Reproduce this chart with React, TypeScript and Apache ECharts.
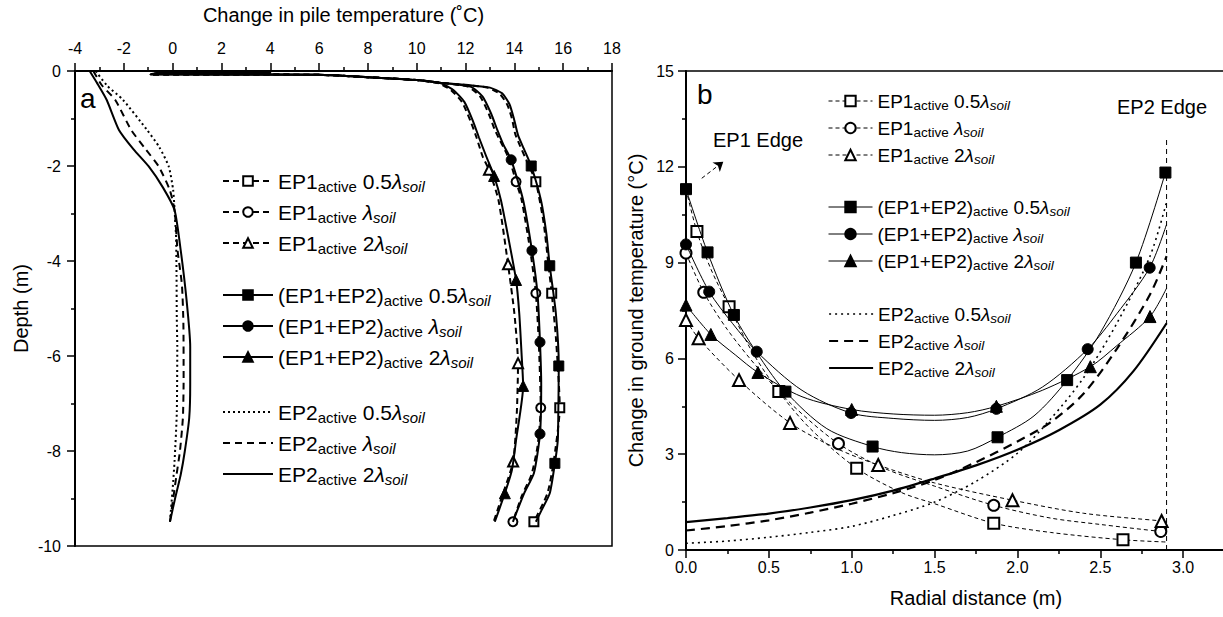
import React, { useEffect, useRef } from 'react';
import * as echarts from 'echarts';

const FONT = '"Liberation Sans", Arial, sans-serif';

// ---------- Panel a : [change in pile temperature (°C), depth (m)] ----------
// EP1+EP2 active (solid, filled markers)
const aBoth05Line = [[-0.9, -0.07], [-0.5, -0.04], [0, -0.01], [2, -0.01], [4, -0.03], [6, -0.08], [8, -0.13], [10, -0.19], [11, -0.25], [12.2, -0.3], [13.0, -0.35], [13.5, -0.47], [13.8, -0.7], [13.98, -1.0], [14.15, -1.35], [14.4, -1.65], [15.09, -2.72], [15.31, -3.42], [15.7, -5.1], [15.8, -7.2], [15.78, -7.77], [15.45, -8.89], [15.12, -9.24], [14.88, -9.49]];
const aBoth05Marks = [[14.69, -2.0], [15.45, -4.1], [15.82, -6.21], [15.66, -8.26]];
const aBoth1Line = [[-0.9, -0.07], [-0.5, -0.04], [0, -0.01], [2, -0.01], [4, -0.03], [6, -0.08], [8, -0.13], [10, -0.19], [11, -0.25], [12.2, -0.33], [12.7, -0.54], [13.05, -0.9], [13.3, -1.24], [13.55, -1.55], [14.36, -2.72], [14.95, -4.7], [15.1, -6.6], [14.8, -8.47], [14.4, -8.89], [13.94, -9.49]];
const aBoth1Marks = [[13.87, -1.87], [14.72, -3.78], [15.05, -5.71], [15.05, -7.64]];
const aBoth2Line = [[-0.9, -0.07], [-0.5, -0.04], [0, -0.01], [2, -0.01], [4, -0.03], [6, -0.08], [8, -0.13], [10, -0.19], [11, -0.26], [11.5, -0.4], [11.95, -0.65], [12.3, -1.05], [12.55, -1.4], [12.85, -1.8], [13.45, -2.72], [13.75, -3.5], [14.2, -5.1], [14.3, -6.0], [14.07, -7.77], [13.9, -8.4], [13.2, -9.49]];
const aBoth2Marks = [[13.17, -2.21], [14.07, -4.4], [14.36, -6.63], [13.61, -8.89]];
// EP1 active (dashed, open markers)
const aEp105Line = [[-0.9, -0.07], [-0.5, -0.04], [0, -0.01], [2, -0.01], [4, -0.03], [6, -0.08], [8, -0.13], [10, -0.19], [11, -0.25], [12.1, -0.3], [12.9, -0.35], [13.4, -0.48], [13.72, -0.72], [13.9, -1.0], [14.05, -1.35], [14.6, -2.0], [15.2, -3.2], [15.4, -4.1], [15.7, -5.6], [15.6, -8.26], [15.35, -8.9]];
const aEp105Marks = [[14.88, -2.33], [15.53, -4.68], [15.86, -7.09], [14.8, -9.49]];
const aEp11Line = [[-0.9, -0.07], [-0.5, -0.04], [0, -0.01], [2, -0.01], [4, -0.03], [6, -0.08], [8, -0.13], [10, -0.19], [11, -0.25], [12.1, -0.33], [12.6, -0.54], [12.95, -0.9], [13.2, -1.24], [13.8, -1.87], [14.3, -2.72], [14.65, -3.78], [15.0, -5.71], [14.95, -7.9], [14.7, -8.5], [14.3, -8.95]];
const aEp11Marks = [[14.07, -2.33], [14.88, -4.68], [15.08, -7.09], [13.94, -9.49]];
const aEp12Line = [[-0.9, -0.07], [-0.5, -0.04], [0, -0.01], [2, -0.01], [4, -0.03], [6, -0.08], [8, -0.13], [10, -0.19], [10.9, -0.26], [11.4, -0.4], [11.85, -0.65], [12.2, -1.05], [12.45, -1.4], [12.7, -1.8], [13.35, -2.72], [14.0, -5.1], [14.1, -7.2], [13.5, -8.95], [13.15, -9.49]];
const aEp12Marks = [[12.96, -2.08], [13.74, -4.07], [14.15, -6.15], [13.95, -8.22]];
// EP2 active (no markers)
const aEp205Line = [[-3.15, 0], [-2.7, -0.3], [-2.03, -0.61], [-1.05, -1.24], [-0.55, -1.6], [-0.16, -2.01], [0.02, -2.5], [0.08, -2.93], [0.14, -3.5], [0.16, -4.3], [0.17, -5.2], [0.19, -5.8], [0.17, -7.2], [0.08, -8.2], [0.0, -8.8], [-0.11, -9.49]];
const aEp21Line = [[-3.25, 0], [-2.9, -0.3], [-2.35, -0.61], [-1.7, -1.24], [-1.1, -1.65], [-0.57, -2.01], [-0.12, -2.5], [0.08, -2.93], [0.2, -3.77], [0.38, -4.5], [0.44, -5.3], [0.45, -6.5], [0.42, -7.3], [0.3, -8.0], [0.16, -8.5], [-0.11, -9.49]];
const aEp22Line = [[-3.4, 0], [-3.1, -0.25], [-2.7, -0.61], [-2.2, -1.24], [-1.6, -1.65], [-0.98, -2.01], [-0.4, -2.45], [0.08, -2.93], [0.33, -3.77], [0.57, -4.82], [0.72, -5.8], [0.72, -6.6], [0.68, -7.3], [0.5, -8.0], [0.33, -8.5], [0.1, -9.0], [-0.11, -9.49]];

// ---------- Panel b : [radial distance (m), change in ground temperature (°C)] ----------
const bEp105Line = [[0, 11.3], [0.15, 8.8], [0.4, 6.2], [0.75, 3.8], [1.3, 1.8], [1.5, 1.45], [2.2, 0.55], [2.9, 0.25]];
const bEp105Marks = [[0.066, 9.97], [0.26, 7.62], [0.56, 4.96], [1.03, 2.56], [1.857, 0.84], [2.637, 0.32]];
const bEp11Line = [[0.25, 6.9], [0.45, 5.6], [0.65, 4.5], [1.2, 2.55], [1.5, 2.0], [2.2, 1.0], [2.5, 0.8], [2.9, 0.57]];
const bEp11Marks = [[0, 9.3], [0.107, 8.07], [0.92, 3.33], [1.857, 1.4], [2.865, 0.58]];
const bEp12Line = [[0.9, 3.2], [1.5, 2.1], [2.4, 1.15], [2.9, 0.9]];
const bEp12Marks = [[0, 7.2], [0.076, 6.63], [0.32, 5.32], [0.628, 3.98], [1.16, 2.66], [1.97, 1.56], [2.87, 0.91]];
const bBoth05Line = [[0.45, 6.0], [0.85, 3.8], [1.3, 3.05], [1.5, 2.98], [1.7, 3.1], [2.1, 4.2], [2.5, 6.8]];
const bBoth05Marks = [[0, 11.3], [0.13, 9.32], [0.289, 7.36], [0.6, 4.96], [1.126, 3.24], [1.88, 3.53], [2.3, 5.32], [2.715, 9.0], [2.893, 11.82]];
const bBoth1Line = [[0.28, 7.1], [0.7, 5.0], [1.25, 4.12], [1.5, 4.06], [1.7, 4.15], [2.15, 5.1], [2.6, 7.4], [2.9, 10.2]];
const bBoth1Marks = [[0, 9.57], [0.14, 8.09], [0.427, 6.21], [0.996, 4.29], [1.873, 4.42], [2.424, 6.29], [2.798, 8.84]];
const bBoth2Line = [[0.3, 6.1], [0.7, 4.8], [1.25, 4.26], [1.5, 4.22], [1.7, 4.3], [2.15, 5.0], [2.6, 6.4], [2.9, 8.2]];
const bBoth2Marks = [[0, 7.67], [0.15, 6.75], [0.434, 5.56], [1.0, 4.4], [1.873, 4.5], [2.44, 5.74], [2.8, 7.31]];
const bEp205Line = [[0, 0.21], [0.25, 0.28], [0.5, 0.4], [0.75, 0.55], [1.0, 0.74], [1.25, 1.08], [1.5, 1.5], [1.75, 2.15], [2.0, 3.03], [2.2, 4.1], [2.4, 5.4], [2.6, 7.1], [2.8, 9.2], [2.9, 10.9]];
const bEp21Line = [[0, 0.61], [0.25, 0.75], [0.5, 0.93], [0.75, 1.17], [1.0, 1.45], [1.25, 1.78], [1.5, 2.19], [1.75, 2.75], [2.0, 3.4], [2.2, 4.0], [2.4, 4.9], [2.6, 6.3], [2.8, 8.0], [2.9, 9.2]];
const bEp22Line = [[0, 0.87], [0.25, 1.0], [0.5, 1.14], [0.75, 1.33], [1.0, 1.56], [1.25, 1.86], [1.5, 2.24], [1.75, 2.65], [2.0, 3.14], [2.25, 3.75], [2.5, 4.55], [2.7, 5.6], [2.9, 7.1]];
const bEdgeLine = [[2.9, 0], [2.9, 12.9]];
const bArrowFrom = [0.095, 11.64];
const bArrowTo = [0.225, 12.16];

const LABELS: Record<string, string> = {
  ep105: 'EP1{s|active} 0.5{l|λ}{ls|soil}',
  ep11: 'EP1{s|active} {l|λ}{ls|soil}',
  ep12: 'EP1{s|active} 2{l|λ}{ls|soil}',
  both05: '(EP1+EP2){s|active} 0.5{l|λ}{ls|soil}',
  both1: '(EP1+EP2){s|active} {l|λ}{ls|soil}',
  both2: '(EP1+EP2){s|active} 2{l|λ}{ls|soil}',
  ep205: 'EP2{s|active} 0.5{l|λ}{ls|soil}',
  ep21: 'EP2{s|active} {l|λ}{ls|soil}',
  ep22: 'EP2{s|active} 2{l|λ}{ls|soil}',
};

function merge(line: number[][], marks: number[][], byDepth: boolean) {
  const items: any[] = [
    ...line.map((p) => ({ value: p, symbol: 'none' })),
    ...marks.map((p) => ({ value: p })),
  ];
  items.sort((a, b) => (byDepth ? b.value[1] - a.value[1] : a.value[0] - b.value[0]));
  return items;
}

function ser(name: string, g: number, data: any[], o: any) {
  return {
    type: 'line',
    name,
    xAxisIndex: g,
    yAxisIndex: g,
    data,
    showSymbol: true,
    symbol: o.symbol || 'none',
    symbolSize: o.size || 10,
    smooth: o.smooth ?? 0.2,
    lineStyle: { color: '#000', width: o.width, type: o.type || 'solid' },
    itemStyle: { color: '#000', borderColor: '#000', borderWidth: 1 },
    emphasis: { disabled: true },
    silent: true,
    z: o.z || 2,
  };
}

function legend(names: string[], left: number, top: number, big: boolean, noSym: boolean) {
  const fs = big ? 21 : 19;
  const ss = big ? 15 : 13.5;
  const lh = big ? 26 : 22;
  return {
    orient: 'vertical',
    left,
    top,
    padding: 0,
    itemGap: 5,
    itemWidth: big ? 50 : 44,
    itemHeight: big ? 12 : 13,
    selectedMode: false,
    data: names.map((n) => (noSym ? { name: n, itemStyle: { opacity: 0 } } : { name: n })),
    formatter: (n: string) => LABELS[n.split(':')[1]],
    lineStyle: { width: 'inherit' },
    textStyle: {
      fontFamily: FONT,
      fontSize: fs,
      lineHeight: lh,
      color: '#000',
      rich: {
        s: { fontFamily: FONT, fontSize: ss, lineHeight: ss, verticalAlign: 'bottom', color: '#000' },
        l: { fontFamily: FONT, fontSize: fs, lineHeight: lh, fontStyle: 'italic', color: '#000' },
        ls: { fontFamily: FONT, fontSize: ss, lineHeight: ss, fontStyle: 'italic', verticalAlign: 'bottom', color: '#000' },
      },
    },
  };
}

const axisCommon = () => ({
  type: 'value',
  nameLocation: 'middle',
  nameTextStyle: { fontFamily: FONT, fontSize: 20, color: '#000' },
  axisLine: { show: true, onZero: false, lineStyle: { color: '#000', width: 2 } },
  axisTick: { show: true, inside: false, length: 8, lineStyle: { color: '#000', width: 1.5 } },
  minorTick: { show: true, splitNumber: 2, length: 4, lineStyle: { color: '#000', width: 1.5 } },
  splitLine: { show: false },
  minorSplitLine: { show: false },
});

export default function App() {
  const ref = useRef<HTMLDivElement>(null);
  useEffect(() => {
    if (!ref.current) return;
    const chart = echarts.init(ref.current, undefined, { renderer: 'svg' });
    const series: any[] = [
      // panel a
      ser('a:ep205', 0, merge(aEp205Line, [], true), { width: 2, type: [2, 3] }),
      ser('a:ep21', 0, merge(aEp21Line, [], true), { width: 2, type: [7, 5] }),
      ser('a:ep22', 0, merge(aEp22Line, [], true), { width: 2 }),
      ser('a:ep105', 0, merge(aEp105Line, aEp105Marks, true), { width: 2, type: [6, 4], symbol: 'emptyRect', size: 9 }),
      ser('a:ep11', 0, merge(aEp11Line, aEp11Marks, true), { width: 2, type: [6, 4], symbol: 'emptyCircle', size: 9 }),
      ser('a:ep12', 0, merge(aEp12Line, aEp12Marks, true), { width: 2, type: [6, 4], symbol: 'emptyTriangle', size: 10 }),
      ser('a:both05', 0, merge(aBoth05Line, aBoth05Marks, true), { width: 2, symbol: 'rect', size: 10, z: 3 }),
      ser('a:both1', 0, merge(aBoth1Line, aBoth1Marks, true), { width: 2, symbol: 'circle', size: 10, z: 3 }),
      ser('a:both2', 0, merge(aBoth2Line, aBoth2Marks, true), { width: 2, symbol: 'triangle', size: 11, z: 3 }),
      // panel b
      ser('b:ep205', 1, merge(bEp205Line, [], false), { width: 1.6, type: [2, 4], smooth: 0.3 }),
      ser('b:ep21', 1, merge(bEp21Line, [], false), { width: 2.2, type: [9, 6], smooth: 0.3 }),
      ser('b:ep22', 1, merge(bEp22Line, [], false), { width: 2.2, smooth: 0.3 }),
      ser('b:ep105', 1, merge(bEp105Line, bEp105Marks, false), { width: 1, type: [4, 3], symbol: 'emptyRect', size: 11, smooth: 0.3 }),
      ser('b:ep11', 1, merge(bEp11Line, bEp11Marks, false), { width: 1, type: [4, 3], symbol: 'emptyCircle', size: 11, smooth: 0.3 }),
      ser('b:ep12', 1, merge(bEp12Line, bEp12Marks, false), { width: 1, type: [4, 3], symbol: 'emptyTriangle', size: 12, smooth: 0.3 }),
      ser('b:both05', 1, merge(bBoth05Line, bBoth05Marks, false), { width: 1, symbol: 'rect', size: 11, smooth: 0.3, z: 3 }),
      ser('b:both1', 1, merge(bBoth1Line, bBoth1Marks, false), { width: 1, symbol: 'circle', size: 11, smooth: 0.3, z: 3 }),
      ser('b:both2', 1, merge(bBoth2Line, bBoth2Marks, false), { width: 1, symbol: 'triangle', size: 12, smooth: 0.3, z: 3 }),
      {
        type: 'line',
        name: 'edge',
        xAxisIndex: 1,
        yAxisIndex: 1,
        data: bEdgeLine,
        symbol: 'none',
        silent: true,
        lineStyle: { color: '#000', width: 1, type: [5, 4] },
        markLine: {
          silent: true,
          symbol: ['none', 'arrow'],
          symbolSize: 9,
          label: { show: false },
          lineStyle: { color: '#000', width: 1, type: [4, 3] },
          data: [[{ coord: bArrowFrom }, { coord: bArrowTo }]],
        },
      },
    ];

    const option: any = {
      animation: false,
      textStyle: { fontFamily: FONT, color: '#000' },
      grid: [
        { left: 75, top: 71, width: 537, height: 475, show: true, borderColor: '#000', borderWidth: 1.5, backgroundColor: 'transparent' },
        { left: 686, top: 71, width: 580, height: 479, show: true, borderColor: '#000', borderWidth: 1.5, backgroundColor: 'transparent' },
      ],
      xAxis: [
        {
          ...axisCommon(),
          gridIndex: 0,
          position: 'top',
          min: -4,
          max: 18,
          interval: 2,
          name: 'Change in pile temperature (˚C)',
          nameGap: 46,
          axisLabel: { fontFamily: FONT, fontSize: 16, color: '#000', margin: 15 },
        },
        {
          ...axisCommon(),
          gridIndex: 1,
          position: 'bottom',
          min: 0,
          max: 3.5,
          interval: 0.5,
          name: 'Radial distance (m)',
          nameGap: 38,
          axisLabel: {
            fontFamily: FONT,
            fontSize: 16,
            color: '#000',
            margin: 9,
            showMaxLabel: false,
            formatter: (v: number) => (v > 3.01 ? '' : v.toFixed(1)),
          },
        },
      ],
      yAxis: [
        {
          ...axisCommon(),
          gridIndex: 0,
          min: -10,
          max: 0,
          interval: 2,
          name: 'Depth (m)',
          nameGap: 44,
          axisLabel: { fontFamily: FONT, fontSize: 16, color: '#000', margin: 14 },
        },
        {
          ...axisCommon(),
          gridIndex: 1,
          min: 0,
          max: 15,
          interval: 3,
          name: 'Change in ground temperature (°C)',
          nameGap: 40,
          axisLabel: { fontFamily: FONT, fontSize: 16, color: '#000', margin: 12 },
        },
      ],
      legend: [
        legend(['a:ep105', 'a:ep11', 'a:ep12'], 222, 168, true, false),
        legend(['a:both05', 'a:both1', 'a:both2'], 222, 282, true, false),
        legend(['a:ep205', 'a:ep21', 'a:ep22'], 222, 399, true, true),
        legend(['b:ep105', 'b:ep11', 'b:ep12'], 828, 90, false, false),
        legend(['b:both05', 'b:both1', 'b:both2'], 828, 196, false, false),
        legend(['b:ep205', 'b:ep21', 'b:ep22'], 828, 303, false, true),
      ],
      graphic: [
        { type: 'text', left: 80, top: 84, style: { text: 'a', font: `28px ${FONT}`, fill: '#000' } },
        { type: 'text', left: 697, top: 80, style: { text: 'b', font: `28px ${FONT}`, fill: '#000' } },
        { type: 'text', left: 713, top: 130, style: { text: 'EP1 Edge', font: `20px ${FONT}`, fill: '#000' } },
        { type: 'text', left: 1117, top: 97, style: { text: 'EP2 Edge', font: `20px ${FONT}`, fill: '#000' } },
      ],
      series,
    };
    chart.setOption(option);
    return () => chart.dispose();
  }, []);
  return (
    <div style={{ position: 'absolute', left: 0, top: 0, width: 1223, height: 617, overflow: 'hidden', background: '#fff' }}>
      <div ref={ref} style={{ width: 1300, height: 617 }} />
    </div>
  );
}
